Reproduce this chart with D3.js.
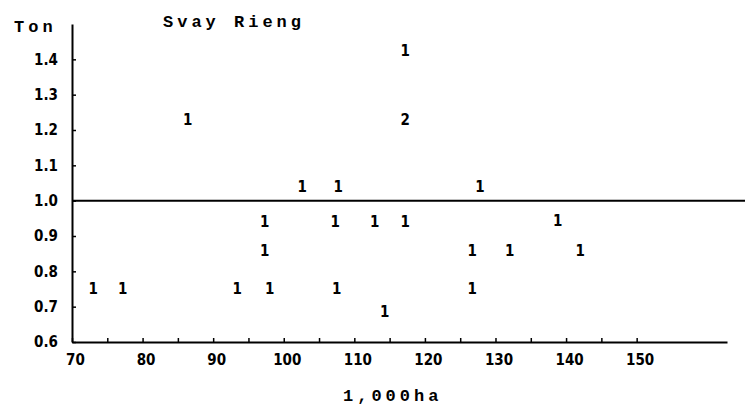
<!DOCTYPE html>
<html>
<head>
<meta charset="utf-8">
<script src="https://cdn.jsdelivr.net/npm/d3@7"></script>
<style>
  body { margin: 0; background: #fff; }
  svg { display: block; }
  .tick text { font-family: "DejaVu Sans Condensed", "DejaVu Sans", sans-serif; font-weight: bold; font-size: 15px; fill: #000; }
  .mono { font-family: "Liberation Mono", "DejaVu Sans Mono", monospace; font-weight: bold; fill: #000; }
</style>
</head>
<body>
<svg id="chart"></svg>
<script>
// area in 1000 ha, yield in ton/ha, and how many provinces share the spot
const area = [86.4, 117.2, 117.2, 102.6, 107.7, 127.8, 97.3, 107.3, 112.9, 117.2, 138.8,
  97.3, 126.7, 132.0, 142.0, 73.0, 77.2, 93.4, 98.0, 107.5, 126.7, 114.3]
const yieldTon = [1.23, 1.425, 1.23, 1.04, 1.04, 1.04, 0.94, 0.94, 0.94, 0.94, 0.945,
  0.86, 0.86, 0.86, 0.86, 0.75, 0.75, 0.75, 0.75, 0.75, 0.75, 0.685]
const counts = ['1', '1', '2', '1', '1', '1', '1', '1', '1', '1', '1',
  '1', '1', '1', '1', '1', '1', '1', '1', '1', '1', '1']
const xTicks = [70, 75, 80, 85, 90, 95, 100, 105, 110, 115, 120, 125, 130, 135, 140, 145, 150]
const yTicks = [0.6, 0.7, 0.8, 0.9, 1.0, 1.1, 1.2, 1.3, 1.4]

const width = 745
const height = 408

const svg = d3.select('#chart')
  .attr('width', width)
  .attr('height', height)

const x = d3.scaleLinear().domain([70, 162.8]).range([72, 727])
const y = d3.scaleLinear().domain([0.6, 1.5]).range([342, 24])

const xAxis = svg.append('g')
  .attr('transform', `translate(0,${y(0.6)})`)
  .call(d3.axisBottom(x)
    .tickValues(xTicks)
    .tickSizeInner(-4)
    .tickSizeOuter(0)
    .tickPadding(12)
    .tickFormat(d => d % 10 === 0 ? d : ''))
xAxis.selectAll('.tick text').attr('dx', 3)

const yAxis = svg.append('g')
  .attr('transform', `translate(${x(70)},0)`)
  .call(d3.axisLeft(y)
    .tickValues(yTicks)
    .tickSizeInner(-4)
    .tickSizeOuter(0)
    .tickPadding(14)
    .tickFormat(d3.format('.1f')))

svg.selectAll('.domain').attr('stroke', '#000').attr('stroke-width', 2)
svg.selectAll('.tick line').attr('stroke', '#000').attr('stroke-width', 1.5)

// reference line at 1.0
svg.append('line')
  .attr('x1', x(70))
  .attr('x2', width)
  .attr('y1', y(1.0))
  .attr('y2', y(1.0))
  .attr('stroke', '#000')
  .attr('stroke-width', 2)

svg.append('g')
  .selectAll('text')
  .data(area.map((a, i) => ({a, t: yieldTon[i], c: counts[i]})))
  .join('text')
  .attr('x', d => x(d.a))
  .attr('y', d => y(d.t))
  .attr('dy', '0.36em')
  .attr('text-anchor', 'middle')
  .attr('font-family', '"DejaVu Sans Condensed", "DejaVu Sans", sans-serif')
  .attr('font-weight', 'bold')
  .attr('font-size', 15)
  .text(d => d.c)

svg.append('text')
  .attr('class', 'mono')
  .attr('x', 163)
  .attr('y', 27)
  .attr('font-size', 17)
  .attr('letter-spacing', 4)
  .text('Svay Rieng')

svg.append('text')
  .attr('class', 'mono')
  .attr('x', 14)
  .attr('y', 32)
  .attr('font-size', 17)
  .attr('letter-spacing', 4)
  .text('Ton')

svg.append('text')
  .attr('class', 'mono')
  .attr('x', 343)
  .attr('y', 401)
  .attr('font-size', 17)
  .attr('letter-spacing', 4)
  .text('1,000ha')
</script>
</body>
</html>
